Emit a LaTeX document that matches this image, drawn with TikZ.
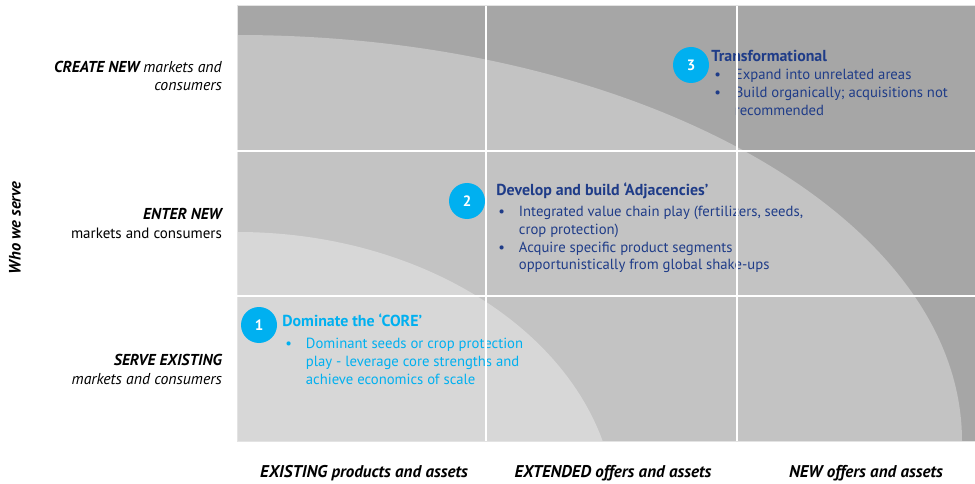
\documentclass[tikz,border=0pt]{standalone}
\usepackage{fontspec}
\setmainfont{PT Sans}
\usepackage{tikz}
\usetikzlibrary{positioning}
\definecolor{corecyan}{HTML}{00B0F0}
\definecolor{adjnavy}{HTML}{1F3C88}
\definecolor{zoneDark}{HTML}{A6A6A6}
\definecolor{zoneMid}{HTML}{C3C3C3}
\definecolor{zoneCore}{HTML}{D7D7D7}
\tikzstyle{numdot} = [circle, fill=corecyan, text=white, font=\fontsize{15}{16}\selectfont\bfseries, minimum size=36pt, inner sep=0pt]
\tikzstyle{rowlabel} = [align=right, anchor=base east, inner sep=0pt, font=\fontsize{15}{18.5}\selectfont]
\tikzstyle{collabel} = [anchor=base, inner sep=0pt, font=\fontsize{17}{20}\selectfont\bfseries\itshape]
\tikzstyle{headline} = [anchor=base west, inner sep=0pt, font=\fontsize{15.9}{18}\selectfont\bfseries]
\tikzstyle{bullets} = [anchor=north west, align=left, inner sep=0pt, font=\fontsize{14.7}{17.75}\selectfont]
\tikzstyle{gridline} = [white, line width=1.5pt]
\newcommand{\itm}{\rule{0pt}{13pt}\makebox[20.5pt][l]{\textbullet}}
\newcommand{\cont}{\hspace*{20.5pt}}
\newcommand{\rowit}[1]{{\fontsize{15.8}{18.5}\selectfont\itshape #1}}
\newcommand{\rowbf}[1]{{\fontsize{15.8}{18.5}\selectfont\bfseries\itshape #1}}

\begin{document}
\begin{tikzpicture}[x=1pt, y=-1pt]
        \useasboundingbox (0,0) rectangle (975,484);
        % the three zones
        \fill[zoneDark] (237,6) rectangle (975,441);
        \begin{scope}
            \clip (237,6) rectangle (975,441);
            \fill[zoneMid] (237,441) ellipse [x radius=725, y radius=406];
            \fill[zoneCore] (237,516) ellipse [x radius=379, y radius=284];
        \end{scope}
        \draw[zoneCore!70!white, line width=1pt] (237,6) rectangle (975,441);

        % axis labels
        \node (who) [rotate=90, font=\fontsize{16.5}{18}\selectfont\bfseries\itshape] at (15,228) {Who we serve};
        \node (create) [rowlabel] at (222,91) {\rowbf{CREATE NEW} \rowit{markets and}\\\rowit{consumers}};
        \node (enter) [rowlabel] at (222,238) {\rowbf{ENTER NEW}\\markets and consumers};
        \node (serve) [rowlabel] at (222,384) {\rowbf{SERVE EXISTING}\\\rowit{markets and consumers}};
        \node (existing) [collabel] at (364,477) {EXISTING products and assets};
        \node (extended) [collabel] at (613,477) {EXTENDED offers and assets};
        \node (new) [collabel] at (866,477) {NEW offers and assets};

        % 1: core
        \node (c1) [numdot] at (259,325) {1};
        \node (t1) [headline, text=corecyan] at ([xshift=5pt, yshift=-1.5pt]c1.east) {Dominate the ‘CORE’};
        \node (b1) [bullets, text=corecyan] at ([xshift=3pt, yshift=-9pt]t1.base west)
            {\itm Dominant seeds or crop protection\\\cont play - leverage core strengths and\\\cont achieve economics of scale};

        % 2: adjacencies
        \node (c2) [numdot] at (467,201) {2};
        \node (t2) [headline, text=adjnavy] at ([xshift=11pt, yshift=5.5pt]c2.east) {Develop and build ‘Adjacencies’};
        \node (b2) [bullets, text=adjnavy] at ([xshift=2pt, yshift=-8pt]t2.base west)
            {\itm Integrated value chain play (fertilizers, seeds,\\\cont crop protection)\\\itm Acquire specific product segments\\\cont opportunistically from global shake-ups};

        % 3: transformational
        \node (c3) [numdot] at (691,65) {3};
        \node (t3) [headline, text=adjnavy] at ([xshift=2pt, yshift=3.5pt]c3.east) {Transformational};
        \node (b3) [bullets, text=adjnavy] at ([xshift=3pt, yshift=-5pt]t3.base west)
            {\itm Expand into unrelated areas\\\itm Build organically; acquisitions not\\\cont recommended};

        % grid on top
        \foreach \x in {486,737}
            \draw[gridline] (\x,6) -- (\x,441);
        \foreach \y in {151,296}
            \draw[gridline] (237,\y) -- (975,\y);
    \end{tikzpicture}
\end{document}
